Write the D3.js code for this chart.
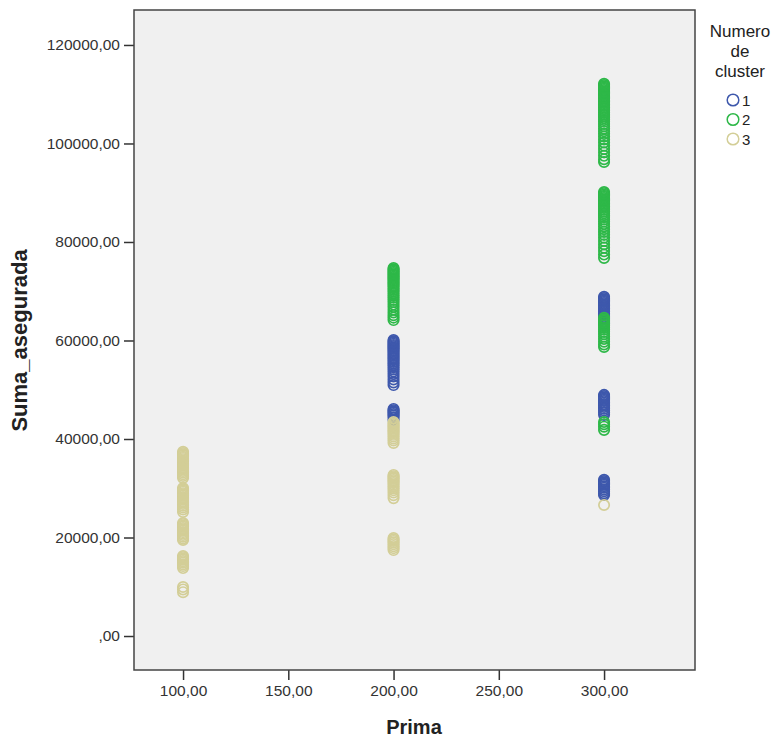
<!DOCTYPE html>
<html>
<head>
<meta charset="utf-8">
<script src="https://cdn.jsdelivr.net/npm/d3@7"></script>
<style>
  body { margin: 0; background: #fff; }
  text { font-family: "Liberation Sans", Arial, sans-serif; }
</style>
</head>
<body>
<svg id="chart" width="778" height="740"></svg>
<script>
// cluster labels and colours (SPSS defaults)
const clusterNames = ['1', '2', '3'];
const clusterColors = ['#3e58ac', '#2eb848', '#d3ce97'];

const xTicks = [100, 150, 200, 250, 300];
const yTicks = [0, 20000, 40000, 60000, 80000, 100000, 120000];

// Suma_asegurada values, one array per cluster and Prima level
const c1_200 = [60100, 59850, 59600, 59350, 59100, 58850, 58600, 58350, 58050, 57800, 57500,
  57200, 56900, 56600, 56300, 56000, 55650, 55300, 54950, 54550, 54150, 53700, 53200, 52700,
  52100, 51500, 50950,
  46100, 45850, 45600, 45350, 45050, 44750, 44400, 43900];
const c1_300 = [68850, 68600, 68350, 68100, 67850, 67600, 67350, 67100, 66800, 66500, 66200,
  65900, 65550, 65200, 64800, 64400, 63900, 63400,
  48950, 48700, 48450, 48200, 47950, 47700, 47400, 47100, 46800, 46500, 46150, 45800, 45400, 44900,
  31700, 31450, 31200, 30950, 30700, 30400, 30100, 29750, 29400, 29000, 28650];
const c2_200 = [74700, 74450, 74200, 73950, 73700, 73450, 73200, 72950, 72700, 72450, 72150,
  71850, 71550, 71250, 70950, 70600, 70250, 69900, 69500, 69100, 68700, 68250, 67800, 67300,
  66800, 66250, 65700, 65150, 64650, 64150];
const c2_300 = [112100, 111850, 111600, 111350, 111100, 110850, 110600, 110350, 110100, 109850,
  109600, 109350, 109100, 108800, 108500, 108200, 107900, 107600, 107300, 107000, 106650, 106300,
  105950, 105600, 105200, 104800, 104400, 103950, 103500, 103000, 102500, 101950, 101400, 100800,
  100200, 99550, 98900, 98200, 97500, 96800, 96250,
  90150, 89900, 89650, 89400, 89150, 88900, 88650, 88400, 88100, 87800, 87500, 87200, 86900,
  86550, 86200, 85850, 85450, 85050, 84600, 84150, 83650, 83150, 82600, 82050, 81450, 80850,
  80200, 79550, 78850, 78150, 77450, 76750,
  64600, 64300, 64000, 63700, 63350, 63000, 62600, 62200, 61750, 61300, 60800, 60300, 59750,
  59200, 58700,
  43450, 43000, 42500, 41850];
const c3_100 = [37400, 37150, 36900, 36700, 36400, 36150, 35900, 35650, 35400, 35100, 34850,
  34600, 34300, 34050, 33800, 33500, 33200, 32850, 32500, 32100,
  30050, 29800, 29550, 29300, 29000, 28750, 28500, 28200, 27950, 27700, 27400, 27100, 26800,
  26450, 26100, 25700, 25200,
  22950, 22700, 22450, 22200, 21900, 21650, 21400, 21100, 20800, 20500, 20150, 19800, 19500,
  16250, 16000, 15750, 15500, 15200, 14900, 14550, 14200, 13800,
  9950, 9450, 8900];
const c3_200 = [43450, 43200, 42900, 42650, 42400, 42100, 41800, 41500, 41200, 40850, 40500,
  40100, 39700, 39200,
  32700, 32450, 32200, 31950, 31650, 31350, 31050, 30700, 30350, 30000, 29600, 29150, 28600, 28000,
  19900, 19600, 19300, 19000, 18650, 18250, 17850, 17450];
const c3_300 = [26600];

// groups in drawing order: cluster 1 first, cluster 3 on top
const groups = [
  { cluster: 0, prima: 200, values: c1_200 },
  { cluster: 0, prima: 300, values: c1_300 },
  { cluster: 1, prima: 200, values: c2_200 },
  { cluster: 1, prima: 300, values: c2_300 },
  { cluster: 2, prima: 100, values: c3_100 },
  { cluster: 2, prima: 200, values: c3_200 },
  { cluster: 2, prima: 300, values: c3_300 }
];

let points = [];
groups.forEach(function(g) {
  g.values.forEach(function(v) {
    points.push({ cluster: g.cluster, prima: g.prima, suma: v });
  });
});

const margin = { top: 10, right: 83, bottom: 70, left: 134 };
const width = 778 - margin.left - margin.right;
const height = 740 - margin.top - margin.bottom;

const svg = d3.select('#chart');
const g = svg.append('g')
  .attr('transform', 'translate(' + margin.left + ',' + margin.top + ')');

const x = d3.scaleLinear().domain([76.7, 343.2]).range([0, width]);
const y = d3.scaleLinear().domain([-6900, 127100]).range([height, 0]);

function spssFormat(d) {
  if (d === 0) return ',00';
  return d3.format('.2f')(d).replace('.', ',');
}

// plot background
g.append('rect')
  .attr('width', width)
  .attr('height', height)
  .attr('fill', '#f0f0f0');

// axes
const xAxis = g.append('g')
  .attr('transform', 'translate(0,' + height + ')')
  .call(d3.axisBottom(x).tickValues(xTicks).tickSize(10).tickPadding(5).tickFormat(spssFormat));

const yAxis = g.append('g')
  .call(d3.axisLeft(y).tickValues(yTicks).tickSize(10).tickPadding(4).tickFormat(spssFormat));

[xAxis, yAxis].forEach(function(a) {
  a.select('.domain').remove();
  a.selectAll('.tick line').attr('stroke', '#333').attr('stroke-width', 1.5);
  a.selectAll('.tick text')
    .attr('fill', '#333')
    .style('font-size', '15.5px')
    .style('font-family', '"Liberation Sans", Arial, sans-serif');
});

// points
g.append('g').selectAll('circle')
  .data(points)
  .enter()
  .append('circle')
    .attr('cx', function(d) { return x(d.prima); })
    .attr('cy', function(d) { return y(d.suma); })
    .attr('r', 5.2)
    .attr('fill', 'none')
    .attr('stroke', function(d) { return clusterColors[d.cluster]; })
    .attr('stroke-width', 1.7);

// frame
g.append('rect')
  .attr('width', width)
  .attr('height', height)
  .attr('fill', 'none')
  .attr('stroke', '#444')
  .attr('stroke-width', 1.5);

// axis titles
svg.append('text')
  .attr('x', margin.left + x(209.7))
  .attr('y', 734)
  .attr('text-anchor', 'middle')
  .style('font-size', '20px')
  .style('font-weight', 'bold')
  .attr('fill', '#222')
  .text('Prima');

svg.append('text')
  .attr('transform', 'translate(27,' + (margin.top + y(60000)) + ') rotate(-90)')
  .attr('text-anchor', 'middle')
  .style('font-size', '22px')
  .style('font-weight', 'bold')
  .attr('fill', '#222')
  .text('Suma_asegurada');

// legend
const legend = svg.append('g');
['Numero', 'de', 'cluster'].forEach(function(t, i) {
  legend.append('text')
    .attr('x', 740)
    .attr('y', 37 + i * 20)
    .attr('text-anchor', 'middle')
    .attr('fill', '#222')
    .style('font-size', '17px')
    .text(t);
});

const items = legend.selectAll('.item')
  .data(clusterNames)
  .enter()
  .append('g')
    .attr('class', 'item')
    .attr('transform', function(d, i) { return 'translate(733,' + (100 + i * 19.5) + ')'; });

items.append('circle')
  .attr('r', 5.8)
  .attr('fill', 'none')
  .attr('stroke', function(d, i) { return clusterColors[i]; })
  .attr('stroke-width', 1.5);

items.append('text')
  .attr('x', 9)
  .attr('y', 5.5)
  .attr('fill', '#222')
  .style('font-size', '15px')
  .text(function(d) { return d; });
</script>
</body>
</html>
